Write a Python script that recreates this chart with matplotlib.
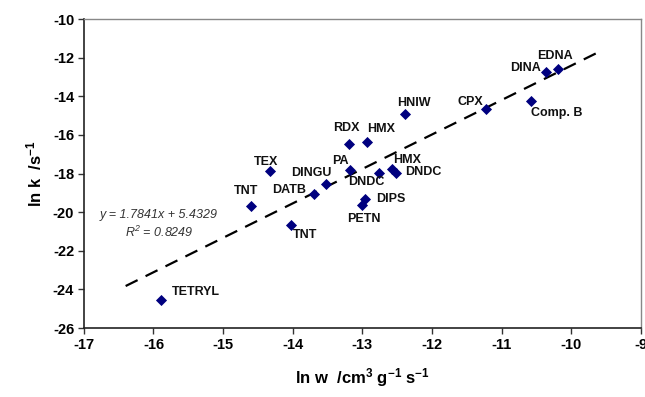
import matplotlib
matplotlib.use("Agg")
import matplotlib.pyplot as plt
import numpy as np

plt.rcParams['font.family'] = ['Liberation Sans', 'DejaVu Sans']
plt.rcParams['mathtext.default'] = 'regular'

# Data
names = ["TETRYL", "TNT", "TEX", "DATB", "TNT", "DINGU", "PA", "RDX", "HMX",
         "DNDC", "PETN", "DIPS", "HMX", "DNDC", "HNIW", "CPX", "Comp. B", "DINA", "EDNA"]
ln_w = [-15.89, -14.60, -14.33, -13.70, -14.02, -13.53, -13.18, -13.19, -12.94,
        -12.76, -13.00, -12.97, -12.58, -12.52, -12.39, -11.22, -10.58, -10.36, -10.19]
ln_k = [-24.56, -19.67, -17.88, -19.07, -20.67, -18.53, -17.84, -16.46, -16.36,
        -17.96, -19.64, -19.34, -17.77, -17.99, -14.92, -14.68, -14.23, -12.76, -12.57]
slope = 1.7841
intercept = 5.4329
r2 = 0.8249
fit_x = [-16.4, -9.65]
x_ticks = [-17, -16, -15, -14, -13, -12, -11, -10, -9]
y_ticks = [-10, -12, -14, -16, -18, -20, -22, -24, -26]

# label offsets in pixels (dx right, dy down)
offsets_px = [(34.7, -7.7), (-5, -14.4), (-3.3, -9.3), (-24.7, -4), (13.7, 10),
              (-14, -10.4), (-10, -9.3), (-2.6, -15.4), (14.3, -12.4), (-13, 9.3),
              (1.3, 13.7), (26.6, 0), (15.4, -9), (27.6, -1.6), (8.6, -11.3),
              (-16.3, -7.3), (25.3, 12.6), (-20.3, -4), (-3.3, -12.7)]

fig = plt.figure(figsize=(6.45, 3.97), dpi=100)
ax = fig.add_axes([0.130, 0.1738, 0.8638, 0.7782])

fx = np.array(fit_x)
ax.plot(fx, slope * fx + intercept, color='black', lw=1.6, dashes=(6, 4), zorder=2)
ax.scatter(ln_w, ln_k, marker='D', s=32, color='#00007F', zorder=3, linewidths=0)

for n, x, y, (dx, dy) in zip(names, ln_w, ln_k, offsets_px):
    ax.annotate(n, (x, y), xytext=(dx * 0.72, -dy * 0.72), textcoords='offset points',
                ha='center', va='center', fontsize=9, fontweight='bold', color='#111111')

ax.text(-15.93, -20.15, f"y = {slope}x + {intercept}", ha='center', va='center',
        fontsize=9, style='italic', color='#333333')
ax.text(-15.92, -21.05, f"R$^{{2}}$ = {r2}", ha='center', va='center',
        fontsize=9, style='italic', color='#333333')

ax.set_xlim(-17, -9)
ax.set_ylim(-26, -10)
ax.set_xticks(x_ticks)
ax.set_yticks(y_ticks)
ax.set_xticklabels([str(t) for t in x_ticks], fontsize=10.5, fontweight='bold')
ax.set_yticklabels([str(t) for t in y_ticks], fontsize=10.5, fontweight='bold')
ax.tick_params(direction='out', length=4, width=1, color='#333333', pad=3)

for s in ['left', 'bottom']:
    ax.spines[s].set_color('#222222')
    ax.spines[s].set_linewidth(1.2)
for s in ['top', 'right']:
    ax.spines[s].set_color('#888888')
    ax.spines[s].set_linewidth(1.0)

ax.set_xlabel("ln w  /cm$^{3}$ g$^{-1}$ s$^{-1}$", fontsize=12, fontweight='bold', labelpad=10)
ax.set_ylabel("ln k  /s$^{-1}$", fontsize=12, fontweight='bold', labelpad=6)

fig.savefig("out.png", dpi=100)
